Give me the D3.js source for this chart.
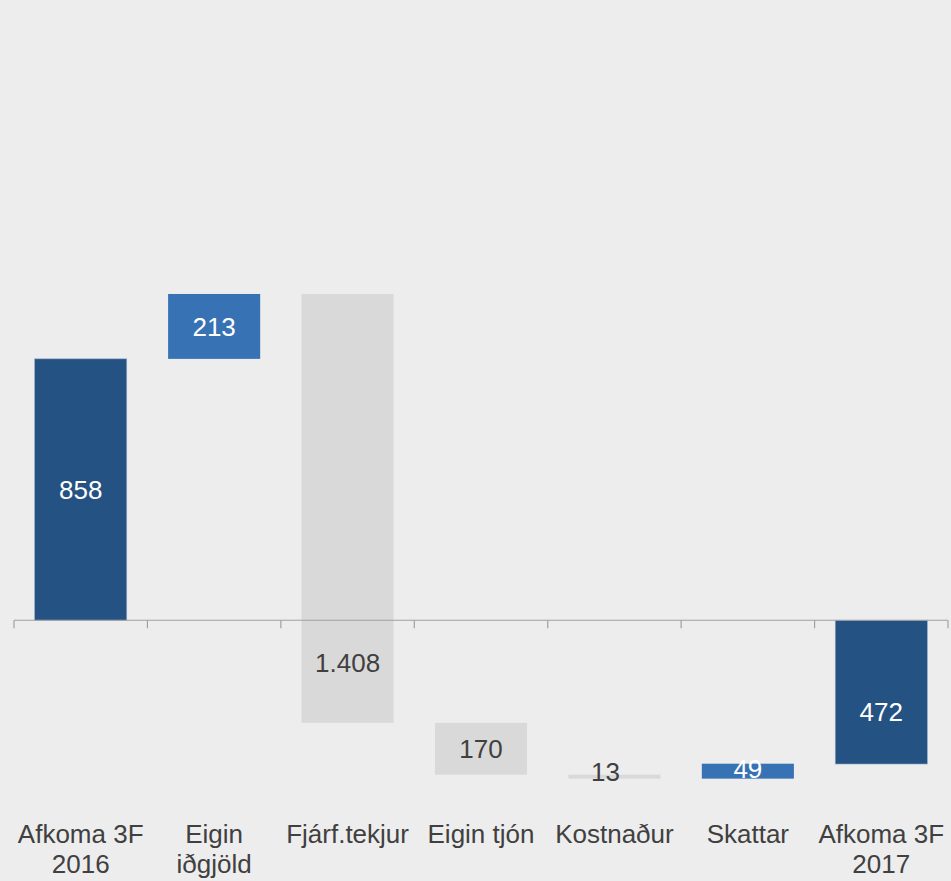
<!DOCTYPE html>
<html>
<head>
<meta charset="utf-8">
<script src="https://cdn.jsdelivr.net/npm/d3@7"></script>
<style>
  body { margin: 0; background: #ededed; }
  svg { display: block; font-family: "Liberation Sans", Arial, sans-serif; }
</style>
</head>
<body>
<div id="chart"></div>
<script>
// ------------ DATA ------------
var categories = [["Afkoma 3F", "2016"], ["Eigin", "iðgjöld"], ["Fjárf.tekjur"], ["Eigin tjón"], ["Kostnaður"], ["Skattar"], ["Afkoma 3F", "2017"]];
var changes = [858, 213, -1408, -170, -13, 49, -472];
var labels = ["858", "213", "1.408", "170", "13", "49", "472"];
var kinds = ["total", "up", "down", "down", "down", "up", "total"];

// ------------ CHART FORMATTING ------------
var svgWidth = 951;
var svgHeight = 881;

var colors = { total: "#245283", up: "#3772b5", down: "#d9d9d9" };
var textColors = { total: "#ffffff", up: "#ffffff", down: "#404040" };

var svg = d3.select("#chart")
  .append("svg")
  .attr("width", svgWidth)
  .attr("height", svgHeight);

svg.append("rect")
  .attr("width", svgWidth)
  .attr("height", svgHeight)
  .attr("fill", "#ededed");

// build waterfall segments
var running = 0;
var bars = changes.map(function(v, i) {
  var start, end;
  if (kinds[i] === "total") {
    start = 0; end = v;
  } else {
    start = running; end = running + v;
  }
  running = end;
  return { i: i, start: start, end: end, kind: kinds[i], label: labels[i] };
});

// ------------ SCALES ------------
var x = d3.scaleBand()
  .domain(d3.range(categories.length))
  .range([14, 948])
  .paddingInner(0.31)
  .paddingOuter(0.155);

var y = d3.scaleLinear()
  .domain([-600, 2000])
  .range([803, 11]);

// ------------ BARS ------------
svg.append("g")
  .selectAll("rect")
  .data(bars)
  .enter()
  .append("rect")
    .attr("x", d => x(d.i))
    .attr("width", x.bandwidth())
    .attr("y", d => y(Math.max(d.start, d.end)))
    .attr("height", d => Math.max(1, Math.abs(y(d.start) - y(d.end))))
    .attr("fill", d => colors[d.kind])
    .attr("stroke", d => d.kind === "total" ? "#8fa6c0" : "none")
    .attr("stroke-width", 0.6);

// ------------ AXIS ------------
var axisG = svg.append("g").attr("transform", `translate(0, ${y(0)})`);
axisG.append("line")
  .attr("x1", 14).attr("x2", 948)
  .attr("stroke", "#a0a0a0").attr("stroke-width", 1.2);
var tickPos = d3.range(categories.length).map(i => x(i) - x.step() * x.paddingInner() / 2);
tickPos.push(948);
tickPos[0] = 14;
axisG.selectAll("line.tick")
  .data(tickPos)
  .enter()
  .append("line")
    .attr("class", "tick")
    .attr("x1", d => d).attr("x2", d => d)
    .attr("y1", 0).attr("y2", 8)
    .attr("stroke", "#a0a0a0").attr("stroke-width", 1.2);

// ------------ VALUE LABELS ------------
function labelY(d) {
  var top = Math.max(d.start, d.end), bottom = Math.min(d.start, d.end);
  if (top > 0 && bottom < 0) top = 0; // label the part below the axis
  var c = (y(top) + y(bottom)) / 2;
  if (d.i === 2) c -= 9;
  if (d.i === 6) c += 20;
  if (d.i === 4) c -= 5;
  if (d.i === 5) c -= 3;
  return c;
}

svg.append("g")
  .selectAll("text")
  .data(bars)
  .enter()
  .append("text")
    .attr("x", d => x(d.i) + x.bandwidth() / 2 + (d.i === 4 ? -9 : 0))
    .attr("y", labelY)
    .attr("dy", "0.36em")
    .attr("text-anchor", "middle")
    .attr("font-size", "26px")
    .attr("fill", d => textColors[d.kind])
    .text(d => d.label);

// ------------ CATEGORY LABELS ------------
var catG = svg.append("g")
  .selectAll("text")
  .data(categories)
  .enter()
  .append("text")
    .attr("x", (d, i) => x(i) + x.bandwidth() / 2)
    .attr("y", 843)
    .attr("text-anchor", "middle")
    .attr("font-size", "26px")
    .attr("fill", "#404040");

catG.selectAll("tspan")
  .data(d => d)
  .enter()
  .append("tspan")
    .attr("x", function() { return d3.select(this.parentNode).attr("x"); })
    .attr("dy", (d, j) => j === 0 ? 0 : 30)
    .text(d => d);
</script>
</body>
</html>
